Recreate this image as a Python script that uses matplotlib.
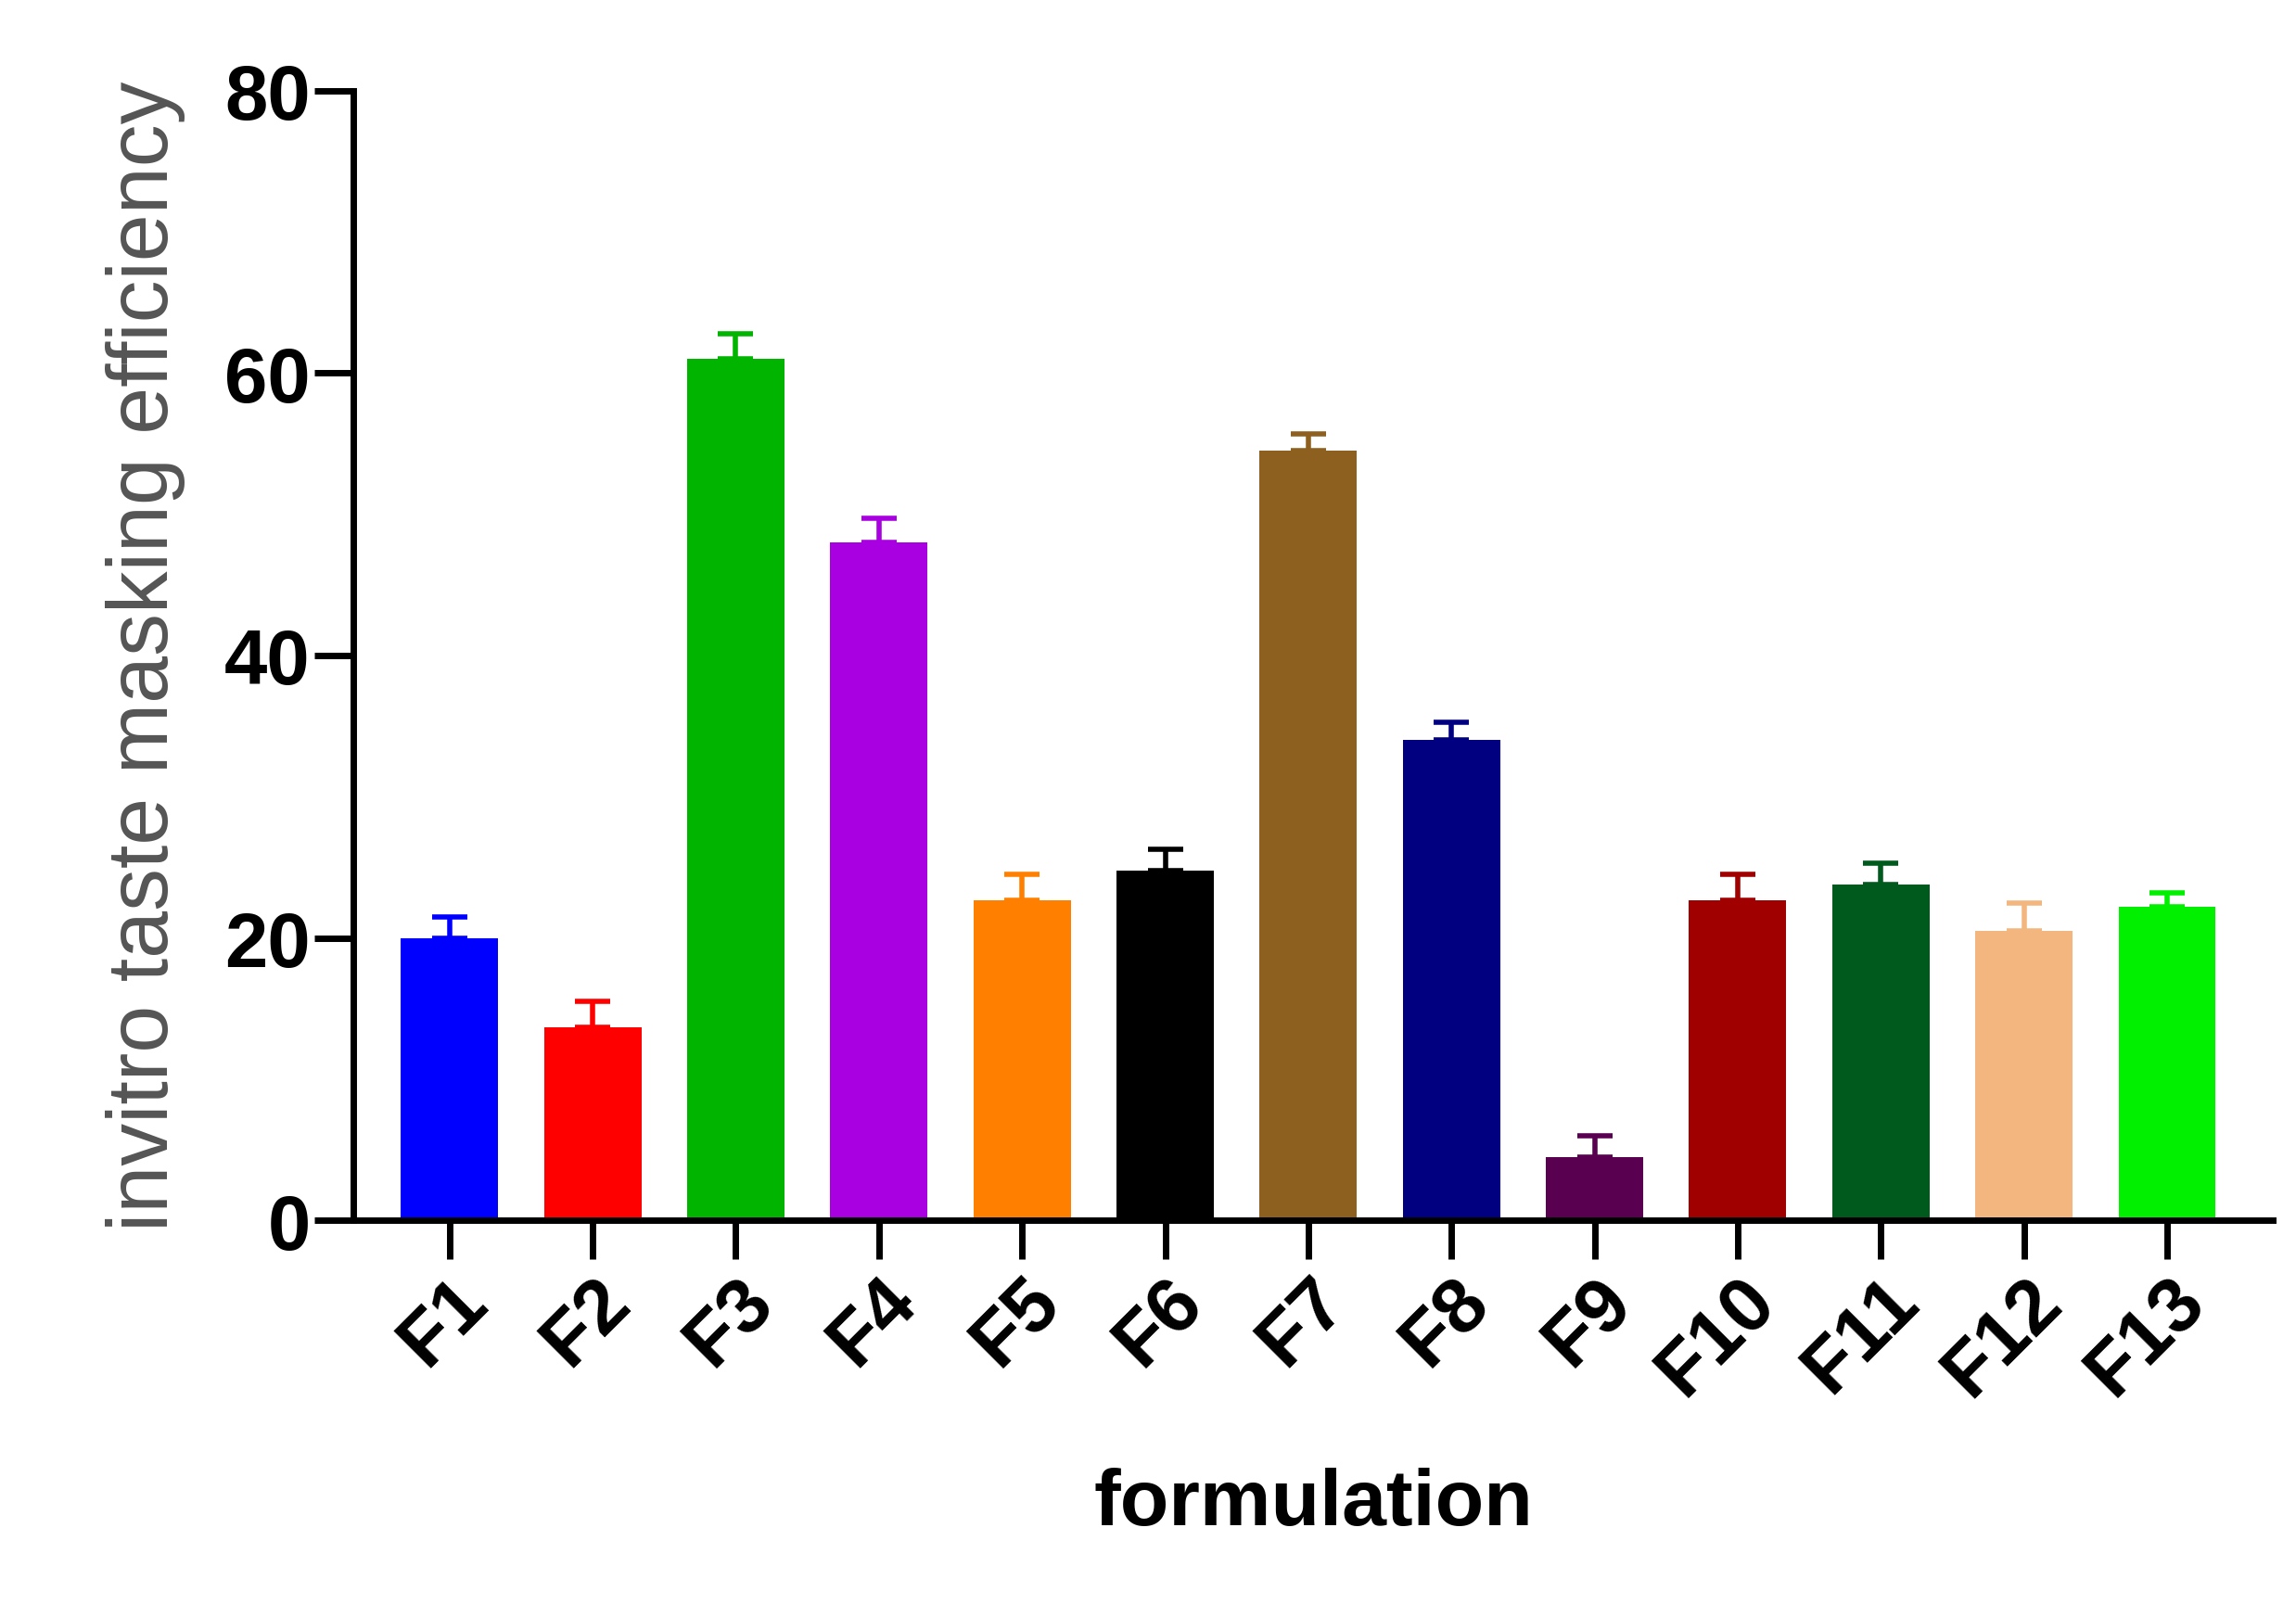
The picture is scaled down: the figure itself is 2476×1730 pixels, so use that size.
import matplotlib.pyplot as plt

labels = ["F1", "F2", "F3", "F4", "F5", "F6", "F7", "F8", "F9", "F10", "F11", "F12", "F13"]
means = [20.0, 13.7, 61.0, 48.0, 22.7, 24.8, 54.5, 34.0, 4.5, 22.7, 23.8, 20.5, 22.2]
errors = [1.5, 1.8, 1.8, 1.7, 1.8, 1.5, 1.2, 1.3, 1.5, 1.8, 1.5, 2.0, 1.0]
colors = ["#0000ff", "#ff0000", "#00b400", "#a800e0", "#ff8000", "#000000", "#8e6020",
          "#000080", "#5a0050", "#a00000", "#005a1e", "#f2b67e", "#00f000"]

plt.rcParams['font.family'] = ['Liberation Sans', 'DejaVu Sans']
fig = plt.figure(figsize=(24.76, 17.31), dpi=100)
ax = fig.add_axes([0.154, 0.239, 0.836, 0.704])

x = range(len(labels))
ax.bar(x, means, width=0.68, color=colors)
for i in x:
    ax.errorbar(i, means[i], yerr=[[0], [errors[i]]], color=colors[i], capsize=14,
                elinewidth=4, capthick=4)

ax.set_xlim(-0.67, 12.74)
ax.set_ylim(0, 80)
ax.set_yticks([0, 20, 40, 60, 80])
ax.set_xticks(list(x))
ax.set_xticklabels(labels, rotation=45, ha='right', rotation_mode='anchor')
for s in ['top', 'right']:
    ax.spines[s].set_visible(False)
for s in ['left', 'bottom']:
    ax.spines[s].set_linewidth(5)
ax.tick_params(axis='both', width=5, length=30, labelsize=60)
for t in ax.get_xticklabels() + ax.get_yticklabels():
    t.set_fontweight('bold')
ax.set_xlabel("formulation", fontsize=62, fontweight='bold', labelpad=45)
ax.set_ylabel("invitro taste masking efficiency", fontsize=66, color='#555555', labelpad=30)

fig.savefig("out.png")
